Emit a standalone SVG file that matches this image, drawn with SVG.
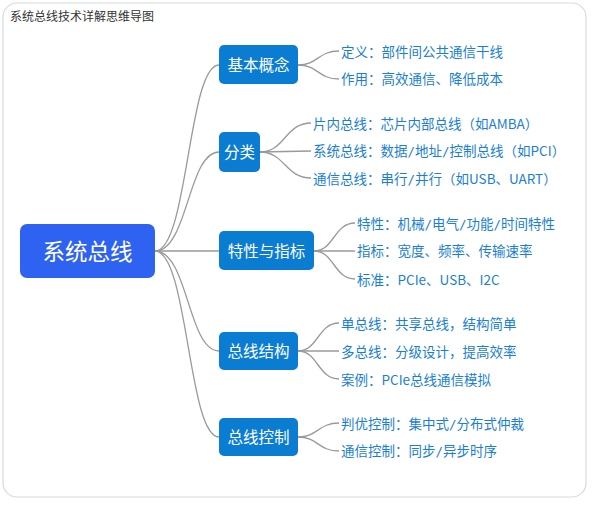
<svg xmlns="http://www.w3.org/2000/svg" width="595" height="505" viewBox="0 0 595 505">
<style>
.frame{fill:#fff;stroke:#d5dbe1;stroke-width:1.2}
.title{font-family:"Noto Sans CJK SC",sans-serif;font-size:12px;fill:#333}
.root rect{fill:#2e62f0}
.root text{font-family:"Noto Sans CJK SC",sans-serif;font-size:22.5px;fill:#fff;text-anchor:middle}
.br rect{fill:#0a7dd3}
.br text{font-family:"Noto Sans CJK SC",sans-serif;font-size:15.5px;fill:#fff;text-anchor:middle}
.leaf{font-family:"Noto Sans CJK SC",sans-serif;font-size:13.5px;fill:#1a80d2}
.sl{font-family:"DejaVu Sans Mono",monospace;font-size:12.5px}
.conn path{fill:none;stroke:#9a9a9a;stroke-width:1.3}
</style>
<rect class="frame" x="3" y="3" width="583" height="494" rx="14"/>
<text class="title" x="10" y="21">系统总线技术详解思维导图</text>
<g id="connectors" class="conn">
<path d="M155,251 C188,251 188,65 219,65"/>
<path d="M155,251 C188,251 188,152 219,152"/>
<path d="M155,251 L219,251"/>
<path d="M155,251 C188,251 188,351 219,351"/>
<path d="M155,251 C188,251 188,437 219,437"/>
<path d="M298,65 C318,65 318,51 339,51"/>
<path d="M298,65 C318,65 318,79 339,79"/>
<path d="M260,152 C285,152 285,123 311,123"/>
<path d="M260,152 L311,151"/>
<path d="M260,152 C285,152 285,178 311,178"/>
<path d="M314,251 C334,251 334,223 355,223"/>
<path d="M314,251 L355,251"/>
<path d="M314,251 C334,251 334,279 355,279"/>
<path d="M298,351 C318,351 318,323 339,323"/>
<path d="M298,351 L339,351"/>
<path d="M298,351 C318,351 318,379 339,379"/>
<path d="M298,437 C318,437 318,423 339,423"/>
<path d="M298,437 C318,437 318,451 339,451"/>
</g>
<g id="root" class="root"><rect x="20" y="224" width="135" height="54" rx="7"/><text x="87.5" y="259.5">系统总线</text></g>
<g id="n1" class="br"><rect x="219" y="45" width="79" height="39" rx="5"/><text x="258.5" y="70.5">基本概念</text></g>
<g id="n2" class="br"><rect x="219" y="132" width="41" height="40" rx="5"/><text x="239.5" y="157.5">分类</text></g>
<g id="n3" class="br"><rect x="219" y="231" width="95" height="39" rx="5"/><text x="266.5" y="256.5">特性与指标</text></g>
<g id="n4" class="br"><rect x="219" y="332" width="79" height="38" rx="5"/><text x="258.5" y="356.5">总线结构</text></g>
<g id="n5" class="br"><rect x="219" y="418" width="79" height="38" rx="5"/><text x="258.5" y="442.5">总线控制</text></g>
<g id="l1"><text class="leaf" x="341" y="56.5">定义：部件间公共通信干线</text></g>
<g id="l2"><text class="leaf" x="341" y="84">作用：高效通信、降低成本</text></g>
<g id="l3"><text class="leaf" x="313" y="128.5">片内总线：芯片内部总线（如AMBA）</text></g>
<g id="l4"><text class="leaf" x="313" y="156">系统总线：数据<tspan class="sl">/</tspan>地址<tspan class="sl">/</tspan>控制总线（如PCI）</text></g>
<g id="l5"><text class="leaf" x="313" y="183.5">通信总线：串行<tspan class="sl">/</tspan>并行（如USB、UART）</text></g>
<g id="l6"><text class="leaf" x="357" y="228.5">特性：机械<tspan class="sl">/</tspan>电气<tspan class="sl">/</tspan>功能<tspan class="sl">/</tspan>时间特性</text></g>
<g id="l7"><text class="leaf" x="357" y="256">指标：宽度、频率、传输速率</text></g>
<g id="l8"><text class="leaf" x="357" y="284.5">标准：PCIe、USB、I2C</text></g>
<g id="l9"><text class="leaf" x="341" y="328.5">单总线：共享总线，结构简单</text></g>
<g id="l10"><text class="leaf" x="341" y="356.5">多总线：分级设计，提高效率</text></g>
<g id="l11"><text class="leaf" x="341" y="384.5">案例：PCIe总线通信模拟</text></g>
<g id="l12"><text class="leaf" x="341" y="428.5">判优控制：集中式<tspan class="sl">/</tspan>分布式仲裁</text></g>
<g id="l13"><text class="leaf" x="341" y="456">通信控制：同步<tspan class="sl">/</tspan>异步时序</text></g>
</svg>
